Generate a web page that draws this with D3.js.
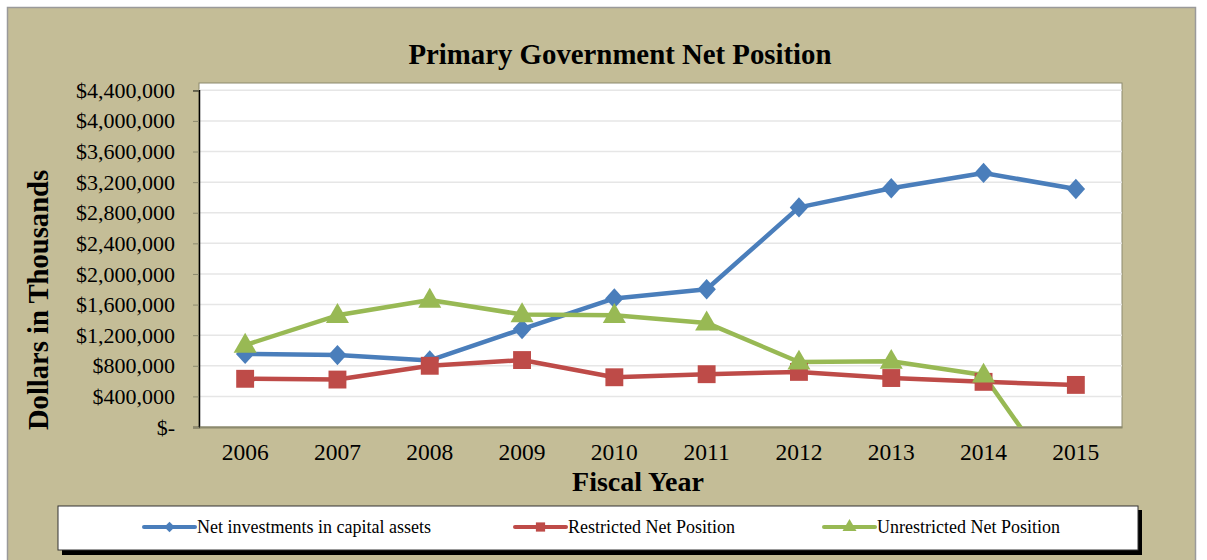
<!DOCTYPE html>
<html><head><meta charset="utf-8">
<script src="https://cdn.jsdelivr.net/npm/d3@7"></script>
<style>body{margin:0;background:#fff}svg{display:block}</style>
</head><body>
<script>
const years = ["2006","2007","2008","2009","2010","2011","2012","2013","2014","2015"];
const netInvestments = [955000, 940000, 870000, 1280000, 1680000, 1800000, 2870000, 3120000, 3320000, 3110000];
const restricted = [630000, 620000, 800000, 875000, 650000, 690000, 720000, 640000, 590000, 550000];
const unrestricted = [1070000, 1460000, 1660000, 1470000, 1460000, 1360000, 850000, 860000, 680000, -1030000];
const yTicks = [0,400000,800000,1200000,1600000,2000000,2400000,2800000,3200000,3600000,4000000,4400000];
const seriesNames = ["Net investments in capital assets","Restricted Net Position","Unrestricted Net Position"];

const W=1207,H=560;
const svg=d3.select("body").append("svg").attr("width",W).attr("height",H);
const serif='"Liberation Serif","Times New Roman",serif';

svg.append("rect").attr("x",7.5).attr("y",7.5).attr("width",1188).attr("height",560).attr("fill","#C4BD97").attr("stroke","#9a9a9a").attr("stroke-width",1.5);

const pl=199,pr=1122,pt=83,pb=427;
const x=d3.scaleBand().domain(years).range([pl,pr]);
const y=d3.scaleLinear().domain([0,4400000]).range([pb,90.3]);

svg.append("rect").attr("x",pl).attr("y",pt).attr("width",pr-pl).attr("height",pb-pt).attr("fill","#fff").attr("stroke","#8c8a6e").attr("stroke-width",1);

// gridlines
svg.append("g").selectAll("line").data(yTicks.filter(d=>d>0)).join("line")
  .attr("x1",pl).attr("x2",pr).attr("y1",d=>y(d)).attr("y2",d=>y(d))
  .attr("stroke","#e6e6e6").attr("stroke-width",1.5);

// y axis
const fmt=d=>d===0?"$-":"$"+d3.format(",")(d);
const ya=svg.append("g").attr("transform",`translate(${pl},0)`)
  .call(d3.axisLeft(y).tickValues(yTicks).tickFormat(fmt).tickSize(6).tickPadding(18));
ya.select(".domain").attr("stroke","#000").attr("stroke-width",1.5);
ya.selectAll(".tick line").attr("stroke","#8c8a6e");
ya.selectAll("text").attr("font-family",serif).attr("font-size",22).attr("fill","#000");

// x axis
const xa=svg.append("g").attr("transform",`translate(0,${pb})`)
  .call(d3.axisBottom(x).tickSize(0).tickPadding(16));
xa.select(".domain").attr("stroke","#8c8a6e").attr("stroke-width",2);
xa.selectAll("text").attr("font-family",serif).attr("font-size",23.5).attr("fill","#000");

svg.append("defs").append("clipPath").attr("id","clip").append("rect")
  .attr("x",pl).attr("y",pt).attr("width",pr-pl).attr("height",pb-pt);

const colors=["#4A7EBB","#BE4B48","#98B954"];
const data=[netInvestments,restricted,unrestricted];
const cx=i=>x(years[i])+x.bandwidth()/2;
const line=d3.line().x((d,i)=>cx(i)).y(d=>y(d));
const shapes=[d3.symbolSquare, d3.symbolSquare, d3.symbolTriangle];
const sizes=[170,320,230];
const g=svg.append("g").attr("clip-path","url(#clip)");
data.forEach((vals,k)=>{
  g.append("path").datum(vals).attr("d",line).attr("fill","none").attr("stroke",colors[k]).attr("stroke-width",4.5).attr("stroke-linejoin","round");
});
data.forEach((vals,k)=>{
  g.append("g").selectAll("path").data(vals).join("path")
    .attr("d",d3.symbol().type(shapes[k]).size(sizes[k]))
    .attr("fill",colors[k])
    .attr("transform",(d,i)=>`translate(${cx(i)},${y(d)+(k===2?1:0)})`+(k===0?" scale(1,1.1) rotate(45)":""));
});

// titles
svg.append("text").attr("x",620).attr("y",64).attr("text-anchor","middle").attr("font-family",serif).attr("font-weight","bold").attr("font-size",28.8).text("Primary Government Net Position");
svg.append("text").attr("transform","translate(48,300) rotate(-90)").attr("text-anchor","middle").attr("font-family",serif).attr("font-weight","bold").attr("font-size",28.6).text("Dollars in Thousands");
svg.append("text").attr("x",638).attr("y",491).attr("text-anchor","middle").attr("font-family",serif).attr("font-weight","bold").attr("font-size",28).text("Fiscal Year");

// legend
svg.append("rect").attr("x",62).attr("y",510).attr("width",1080).attr("height",45).attr("fill","#000");
svg.append("rect").attr("x",58).attr("y",506).attr("width",1080).attr("height",44).attr("fill","#fff").attr("stroke","#333").attr("stroke-width",1);
const lx=[144,515,824];
seriesNames.forEach((n,k)=>{
  const lg=svg.append("g").attr("transform",`translate(${lx[k]},527)`);
  lg.append("line").attr("x1",0).attr("x2",51).attr("stroke",colors[k]).attr("stroke-width",4).attr("stroke-linecap","round");
  lg.append("path").attr("d",d3.symbol().type(shapes[k]).size(k===0?55:85)).attr("fill",colors[k])
    .attr("transform",`translate(25.5,0)`+(k===0?" rotate(45)":""));
  lg.append("text").attr("x",53).attr("y",6).attr("font-family",serif).attr("font-size",18).text(n);
});
</script>
</body></html>
